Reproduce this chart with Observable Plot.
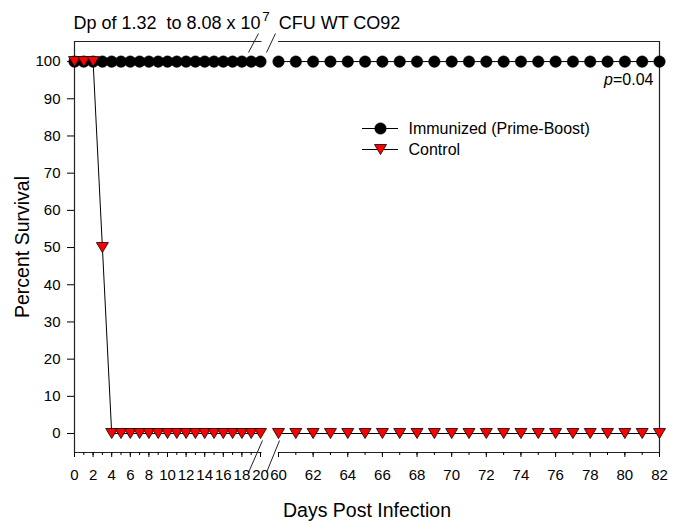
<!DOCTYPE html>
<html>
<head>
<meta charset="utf-8">
<script src="https://cdn.jsdelivr.net/npm/d3@7"></script>
<script src="https://cdn.jsdelivr.net/npm/@observablehq/plot@0.6"></script>
<style>
  html, body { margin: 0; padding: 0; background: #fff; }
</style>
</head>
<body>
<div id="chart"></div>
<script>
// ---------- data ----------
const days = [0,1,2,3,4,5,6,7,8,9,10,11,12,13,14,15,16,17,18,19,20,
              60,61,62,63,64,65,66,67,68,69,70,71,72,73,74,75,76,77,78,79,80,81,82];
const immunized = [100,100,100,100,100,100,100,100,100,100,100,100,100,100,100,100,100,100,100,100,100,
                   100,100,100,100,100,100,100,100,100,100,100,100,100,100,100,100,100,100,100,100,100,100,100];
const control = [100,100,100,50,0,0,0,0,0,0,0,0,0,0,0,0,0,0,0,0,0,
                 0,0,0,0,0,0,0,0,0,0,0,0,0,0,0,0,0,0,0,0,0,0,0];
const seriesNames = ["Immunized (Prime-Boost)", "Control"];
const xTickLabels = [0,2,4,6,8,10,12,14,16,18,20,60,62,64,66,68,70,72,74,76,78,80,82];
const yTicks = [0,10,20,30,40,50,60,70,80,90,100];
const titleMain = "Dp of 1.32  to 8.08 x 10";
const titleSup = "7";
const titleEnd = " CFU WT CO92";
const pText = "p=0.04";
const xLabel = "Days Post Infection";
const yLabel = "Percent Survival";

// ---------- layout ----------
const W = 683, H = 521;
const xDomain = [0, 20, 60, 82];
const xRange = [74, 260, 278, 659];
const yDomain = [-5.1, 105.4];
const mTop = 41, mBottom = 69;
const xInv = d3.scaleLinear().domain(xRange).range(xDomain);
const yInv = d3.scaleLinear().domain([H - mBottom, mTop]).range(yDomain);

const rows = days.map((d, i) => ({
  day: d, imm: immunized[i], ctl: control[i], seg: d <= 20 ? "left" : "right"
}));

const triDown = {
  draw(ctx) {
    ctx.moveTo(-6, -5);
    ctx.lineTo(6, -5);
    ctx.lineTo(0, 5);
    ctx.closePath();
  }
};

// frame pieces (broken axis)
const leftEnd = xInv(261.5);
const frameH = [
  {y: yDomain[1], x1: xDomain[0], x2: leftEnd},
  {y: yDomain[1], x1: xDomain[2], x2: xDomain[3]},
  {y: yDomain[0], x1: xDomain[0], x2: leftEnd},
  {y: yDomain[0], x1: xDomain[2], x2: xDomain[3]}
];
const frameV = [xDomain[0], xDomain[3]];

// break slashes (pixel endpoints converted through the inverse scales)
const slashPx = [[248,52,258,33],[266,52,275,33],[248,472,262,440],[266,472,279,440]];
const slashes = slashPx.map(([a,b,c,d]) => ({x1: xInv(a), y1: yInv(b), x2: xInv(c), y2: yInv(d)}));

// legend
const legendRows = seriesNames.map((name, i) => ({name, i, y: yInv(128 + 21 * i)}));
const lx1 = xInv(362), lx2 = xInv(398), lxs = xInv(380), ltx = xInv(408);

const plot = Plot.plot({
  width: W,
  height: H,
  marginTop: mTop,
  marginBottom: mBottom,
  marginLeft: xRange[0],
  marginRight: W - xRange[3],
  style: {fontFamily: '"Liberation Sans", Arial, sans-serif', fontSize: "15px", background: "white", color: "black", overflow: "visible"},
  x: {type: "linear", domain: xDomain, range: xRange, label: null},
  y: {type: "linear", domain: yDomain, label: null},
  marks: [
    // frame
    Plot.ruleY(frameH, {y: "y", x1: "x1", x2: "x2", stroke: "#222", strokeWidth: 1.2}),
    Plot.ruleX(frameV, {x: d => d, y1: yDomain[0], y2: yDomain[1], stroke: "#222", strokeWidth: 1.2}),
    Plot.link(slashes, {x1: "x1", y1: "y1", x2: "x2", y2: "y2", stroke: "#222", strokeWidth: 1}),
    // axes
    Plot.axisY({ticks: yTicks, tickSize: 7, tickPadding: 7, fontSize: 15, label: null}),
    Plot.axisX({ticks: days, tickSize: 3, tickFormat: () => "", label: null}),
    Plot.axisX({ticks: xTickLabels, tickSize: 5, tickPadding: 12, fontSize: 15, label: null}),
    // series lines
    Plot.line(rows, {x: "day", y: "imm", z: "seg", stroke: "black", strokeWidth: 1}),
    Plot.line(rows, {x: "day", y: "ctl", z: "seg", stroke: "black", strokeWidth: 1}),
    // markers
    Plot.dot(rows, {x: "day", y: "imm", r: 5.8, fill: "black", stroke: "black", strokeWidth: 0.4}),
    Plot.dot(rows, {x: "day", y: "ctl", symbol: triDown, fill: "#ff0000", stroke: "black", strokeWidth: 0.8}),
    // legend
    Plot.ruleY(legendRows, {y: "y", x1: lx1, x2: lx2, stroke: "black", strokeWidth: 1}),
    Plot.dot(legendRows.filter(d => d.i === 0), {x: lxs, y: "y", r: 5.8, fill: "black", stroke: "black", strokeWidth: 0.4}),
    Plot.dot(legendRows.filter(d => d.i === 1), {x: lxs, y: "y", symbol: triDown, fill: "#ff0000", stroke: "black", strokeWidth: 0.8}),
    Plot.text(legendRows, {x: ltx, y: "y", text: "name", textAnchor: "start", lineAnchor: "middle", fontSize: 16}),
    // texts
    Plot.text([titleMain], {text: d => d, frameAnchor: "top-left", dx: -1, dy: -13, textAnchor: "start", lineAnchor: "bottom", fontSize: 18}),
    Plot.text([pText], {text: d => d, frameAnchor: "top-right", dx: -6, dy: 43, textAnchor: "end", lineAnchor: "bottom", fontSize: 16}),
    Plot.text([yLabel], {text: d => d, frameAnchor: "left", dx: -52, rotate: -90, textAnchor: "middle", lineAnchor: "middle", fontSize: 19.5}),
    Plot.text([xLabel], {text: d => d, frameAnchor: "bottom", dx: 0, dy: 64, textAnchor: "middle", lineAnchor: "bottom", fontSize: 19.5})
  ]
});

d3.select(plot).selectAll("text").each(function () {
  const t = d3.select(this);
  if (this.textContent === titleMain) {
    t.text(null).style("white-space", "pre");
    t.append("tspan").text(titleMain);
    t.append("tspan").attr("font-size", 13.5).attr("dy", -8).attr("dx", 1.5).text(titleSup);
    t.append("tspan").attr("font-size", 18).attr("dy", 8).attr("dx", 4).text(titleEnd);
  } else if (this.textContent === pText) {
    t.text(null);
    t.append("tspan").attr("font-style", "italic").text("p");
    t.append("tspan").text("=0.04");
  }
});

document.getElementById("chart").appendChild(plot);
</script>
</body>
</html>
